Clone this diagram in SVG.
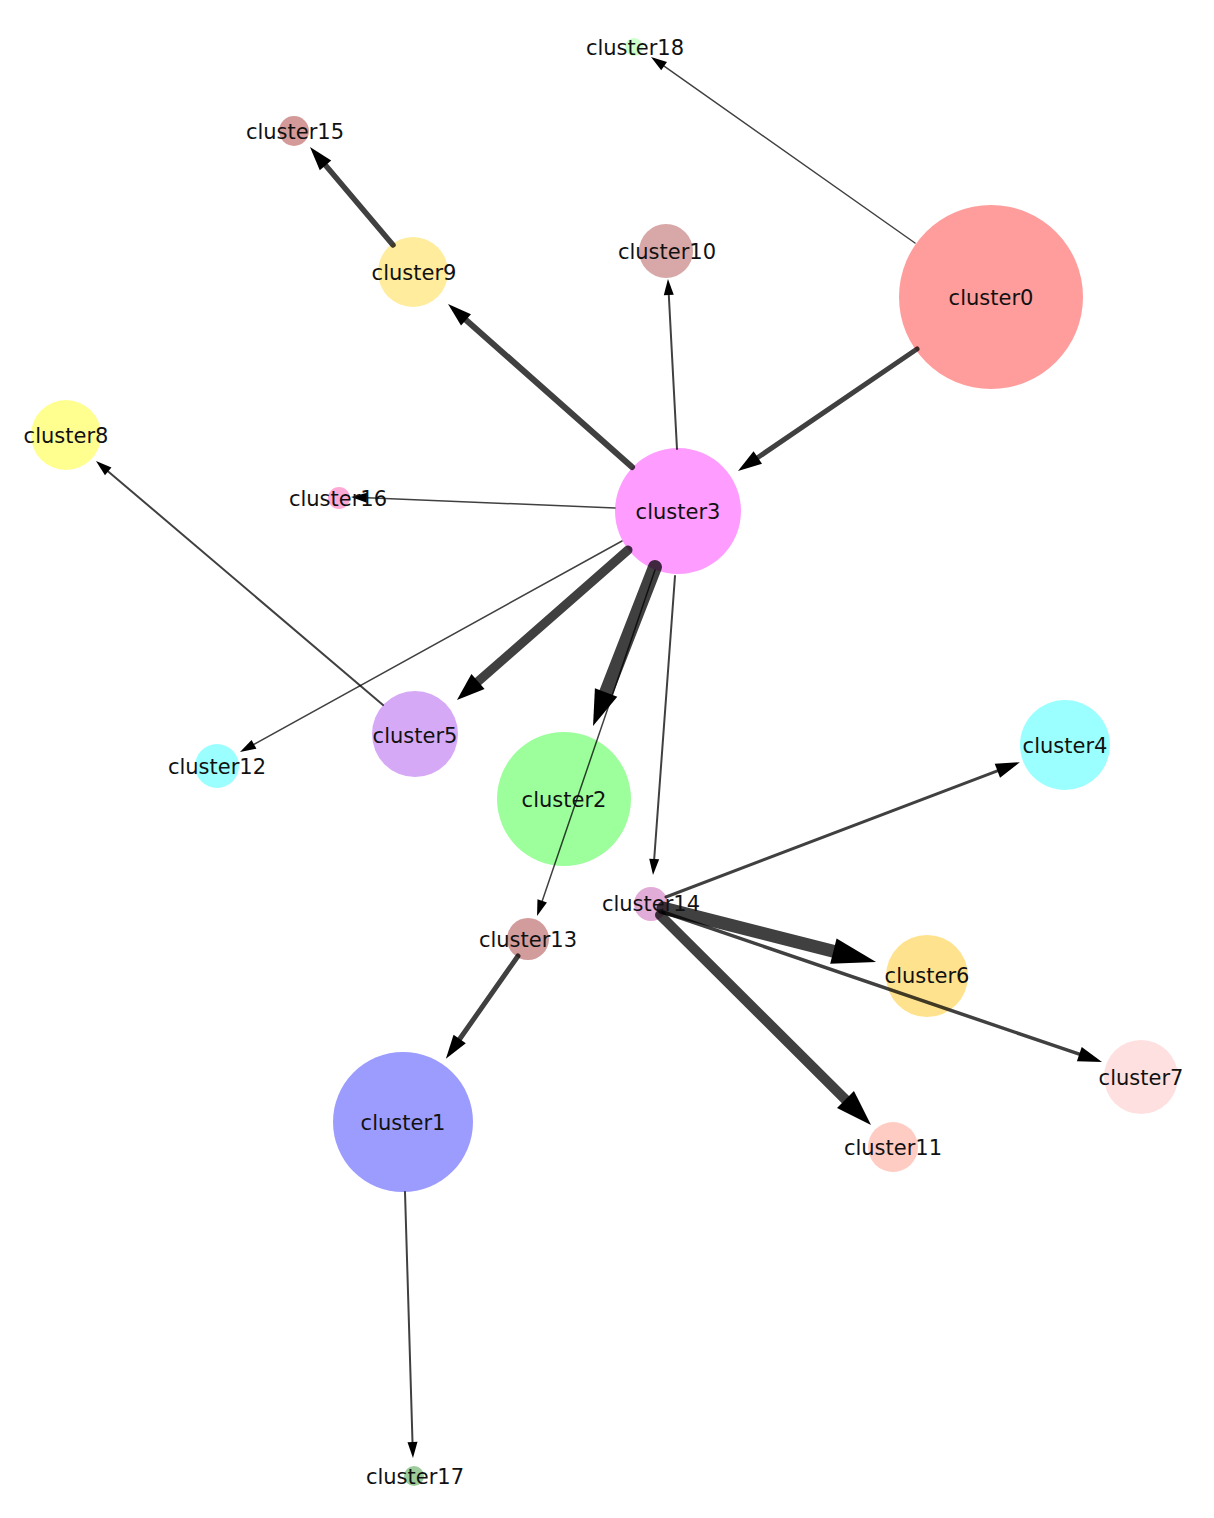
<svg xmlns="http://www.w3.org/2000/svg" width="1214" height="1518" viewBox="0 0 1214 1518">
<style>
  .lbl { font-family: "DejaVu Sans", "Liberation Sans", sans-serif; font-size: 21px; fill: #111; text-anchor: middle; }
  .e { stroke: #000; stroke-opacity: 0.75; fill: none; stroke-linecap: round; }
</style>
<defs>
  <marker id="s" markerUnits="userSpaceOnUse" markerWidth="16" markerHeight="10" viewBox="0 0 16 10" refX="0" refY="5" orient="auto" overflow="visible"><path d="M0,0 L16,5 L0,10 Z" fill="#000"/></marker>
  <marker id="m" markerUnits="userSpaceOnUse" markerWidth="24" markerHeight="15" viewBox="0 0 24 15" refX="0" refY="7.5" orient="auto" overflow="visible"><path d="M0,0 L24,7.5 L0,15 Z" fill="#000"/></marker>
  <marker id="l" markerUnits="userSpaceOnUse" markerWidth="28" markerHeight="20" viewBox="0 0 28 20" refX="0" refY="10" orient="auto" overflow="visible"><path d="M0,0 L28,10 L0,20 Z" fill="#000"/></marker>
  <marker id="xl" markerUnits="userSpaceOnUse" markerWidth="36" markerHeight="24" viewBox="0 0 36 24" refX="0" refY="12" orient="auto" overflow="visible"><path d="M0,0 L36,12 L0,24 Z" fill="#000"/></marker>
  <marker id="xxl" markerUnits="userSpaceOnUse" markerWidth="44" markerHeight="26" viewBox="0 0 44 26" refX="0" refY="13" orient="auto" overflow="visible"><path d="M0,0 L44,13 L0,26 Z" fill="#000"/></marker>
</defs>
<rect width="1214" height="1518" fill="#fff"/>
<g id="nodes">
  <g id="cluster0"><circle cx="991" cy="297" r="92" fill="#ff9c9c"/></g>
  <g id="cluster1"><circle cx="403" cy="1122" r="70" fill="#9c9cff"/></g>
  <g id="cluster2"><circle cx="564" cy="799" r="67" fill="#9cff9c"/></g>
  <g id="cluster3"><circle cx="678" cy="511" r="63" fill="#ff9cff"/></g>
  <g id="cluster4"><circle cx="1065" cy="745" r="45" fill="#9cffff"/></g>
  <g id="cluster5"><circle cx="415" cy="734" r="43" fill="#d6a9f7"/></g>
  <g id="cluster6"><circle cx="927" cy="976" r="41" fill="#ffe28e"/></g>
  <g id="cluster7"><circle cx="1141" cy="1077" r="37" fill="#ffe0e0"/></g>
  <g id="cluster8"><circle cx="66" cy="435" r="35" fill="#ffff90"/></g>
  <g id="cluster9"><circle cx="413" cy="272" r="35" fill="#ffec9c"/></g>
  <g id="cluster10"><circle cx="666" cy="251" r="27" fill="#d8a8a8"/></g>
  <g id="cluster11"><circle cx="893" cy="1147" r="25" fill="#ffccc4"/></g>
  <g id="cluster12"><circle cx="217" cy="766" r="22" fill="#9cffff"/></g>
  <g id="cluster13"><circle cx="528" cy="939" r="21" fill="#d29c9c"/></g>
  <g id="cluster14"><circle cx="651" cy="904" r="17" fill="#e2acd8"/></g>
  <g id="cluster15"><circle cx="294" cy="131" r="15" fill="#d49a9a"/></g>
  <g id="cluster16"><circle cx="339" cy="498" r="11" fill="#ffaad6"/></g>
  <g id="cluster17"><circle cx="414" cy="1476" r="10" fill="#9ccc9c"/></g>
  <g id="cluster18"><circle cx="634" cy="47" r="9" fill="#ccffcc"/></g>
</g>
<g id="edges">
  <line class="e" x1="915" y1="243" x2="664.1" y2="66.2" stroke-width="1.5" marker-end="url(#s)"/>
  <line class="e" x1="917" y1="349" x2="757.8" y2="457.5" stroke-width="5" marker-end="url(#m)"/>
  <line class="e" x1="632" y1="467" x2="466" y2="319.9" stroke-width="6" marker-end="url(#m)"/>
  <line class="e" x1="393" y1="245" x2="325.5" y2="165.3" stroke-width="5.5" marker-end="url(#m)"/>
  <line class="e" x1="677" y1="449" x2="668.8" y2="295" stroke-width="2" marker-end="url(#s)"/>
  <line class="e" x1="615" y1="508" x2="367" y2="497.7" stroke-width="1.5" marker-end="url(#s)"/>
  <line class="e" x1="628" y1="550" x2="478" y2="681.5" stroke-width="9" marker-end="url(#l)"/>
  <line class="e" x1="622" y1="541" x2="254" y2="744.3" stroke-width="1.5" marker-end="url(#s)"/>
  <line class="e" x1="383" y1="705" x2="108.2" y2="471.4" stroke-width="2" marker-end="url(#s)"/>
  <line class="e" x1="655" y1="570" x2="542.2" y2="900.9" stroke-width="1.5" marker-end="url(#s)"/>
  <line class="e" x1="655" y1="567" x2="606.1" y2="692.5" stroke-width="14" marker-end="url(#xl)"/>
  <line class="e" x1="675" y1="576" x2="654.2" y2="859" stroke-width="2" marker-end="url(#s)"/>
  <line class="e" x1="666" y1="897" x2="997.4" y2="770.8" stroke-width="3" marker-end="url(#m)"/>
  <line class="e" x1="663" y1="912" x2="1079.3" y2="1054.2" stroke-width="3.5" marker-end="url(#m)"/>
  <line class="e" x1="663" y1="908" x2="833.4" y2="951.2" stroke-width="13" marker-end="url(#xxl)"/>
  <line class="e" x1="660" y1="915" x2="845.5" y2="1099.6" stroke-width="10" marker-end="url(#xl)"/>
  <line class="e" x1="518" y1="956" x2="459.7" y2="1039" stroke-width="5" marker-end="url(#m)"/>
  <line class="e" x1="405" y1="1192" x2="412.5" y2="1442" stroke-width="2" marker-end="url(#s)"/>
</g>
<g id="labels">
  <text class="lbl" x="991" y="305">cluster0</text>
  <text class="lbl" x="403" y="1130">cluster1</text>
  <text class="lbl" x="564" y="807">cluster2</text>
  <text class="lbl" x="678" y="519">cluster3</text>
  <text class="lbl" x="1065" y="753">cluster4</text>
  <text class="lbl" x="415" y="743">cluster5</text>
  <text class="lbl" x="927" y="983">cluster6</text>
  <text class="lbl" x="1141" y="1085">cluster7</text>
  <text class="lbl" x="66" y="443">cluster8</text>
  <text class="lbl" x="414" y="280">cluster9</text>
  <text class="lbl" x="667" y="259">cluster10</text>
  <text class="lbl" x="893" y="1155">cluster11</text>
  <text class="lbl" x="217" y="774">cluster12</text>
  <text class="lbl" x="528" y="947">cluster13</text>
  <text class="lbl" x="651" y="911">cluster14</text>
  <text class="lbl" x="295" y="139">cluster15</text>
  <text class="lbl" x="338" y="506">cluster16</text>
  <text class="lbl" x="415" y="1484">cluster17</text>
  <text class="lbl" x="635" y="55">cluster18</text>
</g>
</svg>
